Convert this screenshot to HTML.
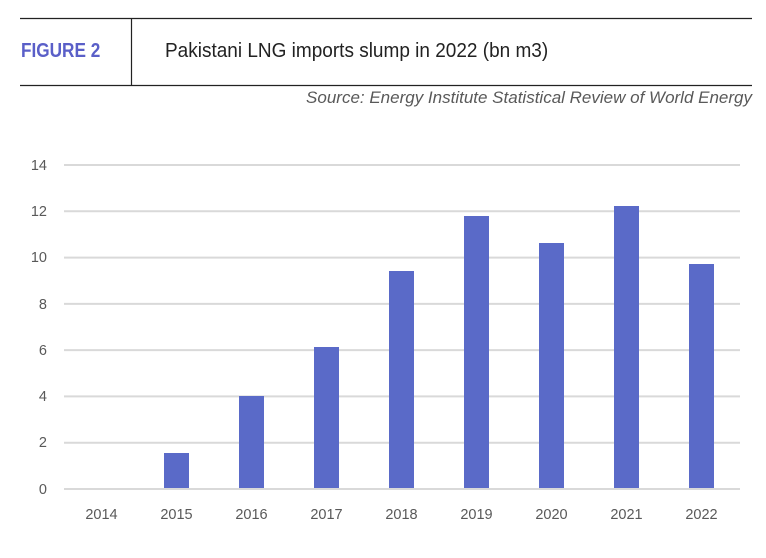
<!DOCTYPE html>
<html><head><style>
body{margin:0;width:766px;height:553px;background:#fff;overflow:hidden;font-family:"Liberation Sans",sans-serif;}
</style></head><body>
<svg width="766" height="553" xmlns="http://www.w3.org/2000/svg" font-family="Liberation Sans, sans-serif">
<line x1="20" y1="18.5" x2="752" y2="18.5" stroke="#222" stroke-width="1.2"/>
<line x1="20" y1="85.5" x2="752" y2="85.5" stroke="#222" stroke-width="1.2"/>
<line x1="131.5" y1="18" x2="131.5" y2="85" stroke="#222" stroke-width="1.2"/>
<text x="21" y="57" font-size="20" font-weight="bold" fill="#5a5fc8" transform="scale(0.86,1)" transform-origin="21 57">FIGURE 2</text>
<text x="165" y="57" font-size="20" fill="#222" transform="scale(0.95,1)" transform-origin="165 57">Pakistani LNG imports slump in 2022 (bn m3)</text>
<text x="752" y="103" font-size="17" font-style="italic" fill="#595959" text-anchor="end">Source: Energy Institute Statistical Review of World Energy</text>
<g stroke="#d9d9d9" stroke-width="2">
<line x1="64" x2="740" y1="165" y2="165"/><line x1="64" x2="740" y1="211.3" y2="211.3"/>
<line x1="64" x2="740" y1="257.6" y2="257.6"/><line x1="64" x2="740" y1="303.9" y2="303.9"/>
<line x1="64" x2="740" y1="350.1" y2="350.1"/><line x1="64" x2="740" y1="396.4" y2="396.4"/>
<line x1="64" x2="740" y1="442.7" y2="442.7"/><line x1="64" x2="740" y1="489" y2="489"/>
</g>
<g font-size="14.5" fill="#595959" text-anchor="end">
<text x="47" y="170">14</text><text x="47" y="216">12</text><text x="47" y="262">10</text>
<text x="47" y="309">8</text><text x="47" y="355">6</text><text x="47" y="401">4</text>
<text x="47" y="447">2</text><text x="47" y="494">0</text>
</g>
<g fill="#5a6ac8">
<rect x="164" y="453" width="25" height="35"/>
<rect x="239" y="396" width="25" height="92"/>
<rect x="314" y="347" width="25" height="141"/>
<rect x="389" y="271" width="25" height="217"/>
<rect x="464" y="216" width="25" height="272"/>
<rect x="539" y="243" width="25" height="245"/>
<rect x="614" y="206" width="25" height="282"/>
<rect x="689" y="264" width="25" height="224"/>
</g>
<g font-size="14.5" fill="#595959" text-anchor="middle">
<text x="101.5" y="519">2014</text><text x="176.5" y="519">2015</text><text x="251.5" y="519">2016</text>
<text x="326.5" y="519">2017</text><text x="401.5" y="519">2018</text><text x="476.5" y="519">2019</text>
<text x="551.5" y="519">2020</text><text x="626.5" y="519">2021</text><text x="701.5" y="519">2022</text>
</g>
</svg>
</body></html>
